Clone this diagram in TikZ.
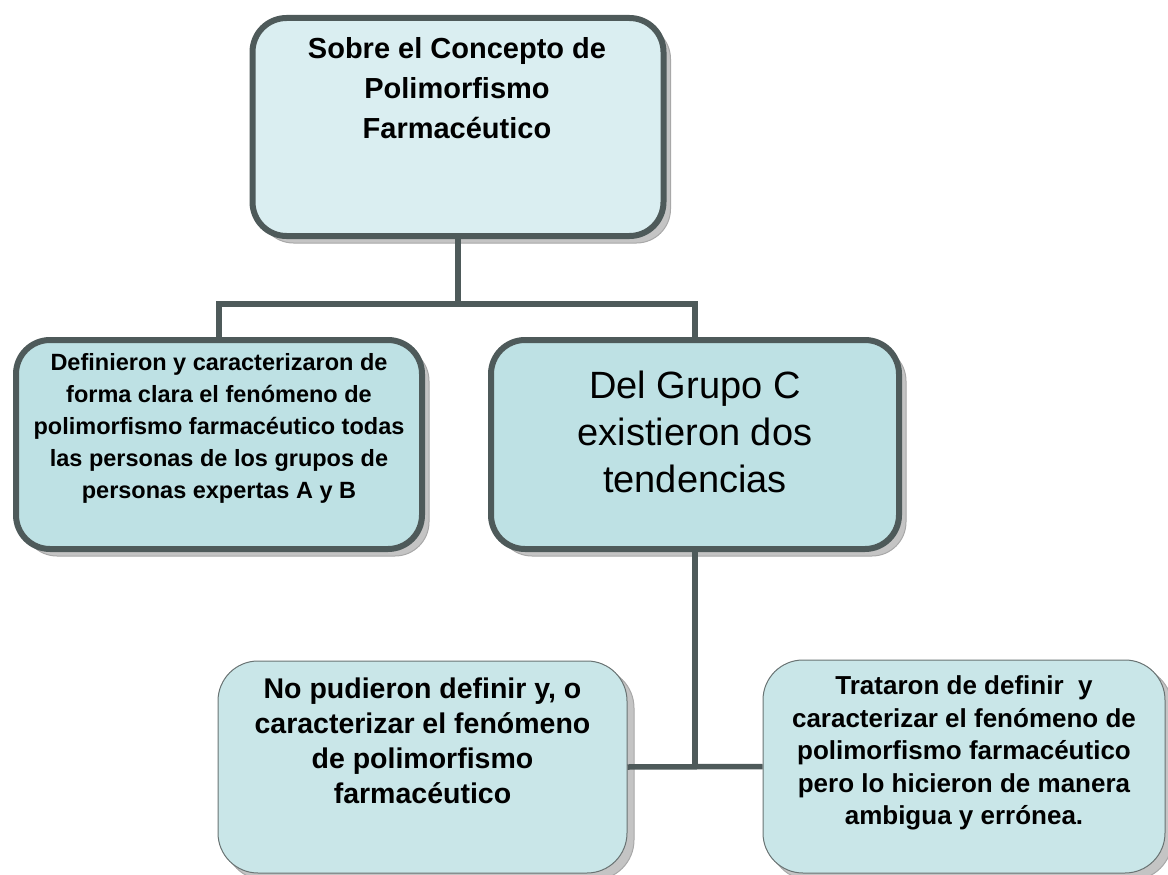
\documentclass[tikz,border=0pt]{standalone}
\usepackage{fontspec}
\setmainfont{Liberation Sans}
\definecolor{bordc}{HTML}{4E5A5A}
\definecolor{fillA}{HTML}{DAEEF1}
\definecolor{fillB}{HTML}{BEE1E4}
\definecolor{fillC}{HTML}{C9E6E8}
\definecolor{shadc}{HTML}{C4C4C4}
\definecolor{shadd}{HTML}{A8A8A8}
\begin{document}
\begin{tikzpicture}[x=1pt,y=-1pt,
  shadowed/.style={preaction={fill=shadc, draw=shadd, line width=1pt, transform canvas={shift={(7pt,-7pt)}}}},
  bigbox/.style={shadowed, draw=bordc, line width=6pt, rounded corners=34pt, inner sep=0pt},
  thinbox/.style={shadowed, draw=bordc!85, line width=1pt, rounded corners=40pt, inner sep=0pt, fill=fillC},
  txt/.style={align=center, inner sep=0pt},
  conn/.style={draw=bordc, line width=5.5pt}]
\useasboundingbox (0,0) rectangle (1168,875);
% boxes
\node[bigbox, fill=fillA, minimum width=411pt, minimum height=218pt] (top) at (458,127) {};
\node[bigbox, fill=fillB, minimum width=406pt, minimum height=209pt] (left) at (219,444.5) {};
\node[bigbox, fill=fillB, minimum width=408pt, minimum height=209pt] (mid) at (695,444.5) {};
\node[thinbox, minimum width=409pt, minimum height=212pt] (bl) at (422.5,767) {};
\node[thinbox, minimum width=402pt, minimum height=213pt] (br) at (964,766.5) {};
% texts
\node[txt, font=\fontsize{29}{40}\selectfont\bfseries] (ttop) at (457,88) {Sobre el Concepto de\\Polimorfismo\\Farmacéutico};
\node[txt, font=\fontsize{23.5}{32}\selectfont\bfseries] (tleft) at (219,428) {Definieron y caracterizaron de\\forma clara el fenómeno de\\polimorfismo farmacéutico todas\\las personas de los grupos de\\personas expertas A y B};
\node[txt, font=\fontsize{38}{47}\selectfont] (tmid) at (695,432) {Del Grupo C\\existieron dos\\tendencias};
\node[txt, font=\fontsize{28.5}{35}\selectfont\bfseries] (tbl) at (422.5,741) {No pudieron definir y, o\\caracterizar el fenómeno\\de polimorfismo\\farmacéutico};
\node[txt, font=\fontsize{26}{32.5}\selectfont\bfseries] (tbr) at (964,753) {Trataron de definir\ \ y\\caracterizar el fenómeno de\\polimorfismo farmacéutico\\pero lo hicieron de manera\\ambigua y errónea.};
% connectors
\coordinate (j1) at (458,304);
\draw[conn] (top.south) -- (j1);
\draw[conn] (left.north) |- (j1) -| (mid.north);
\coordinate (j2) at (695,767);
\draw[conn] (mid.south) -- (j2);
\draw[conn] (bl.east) -- (br.west);
\end{tikzpicture}
\end{document}
